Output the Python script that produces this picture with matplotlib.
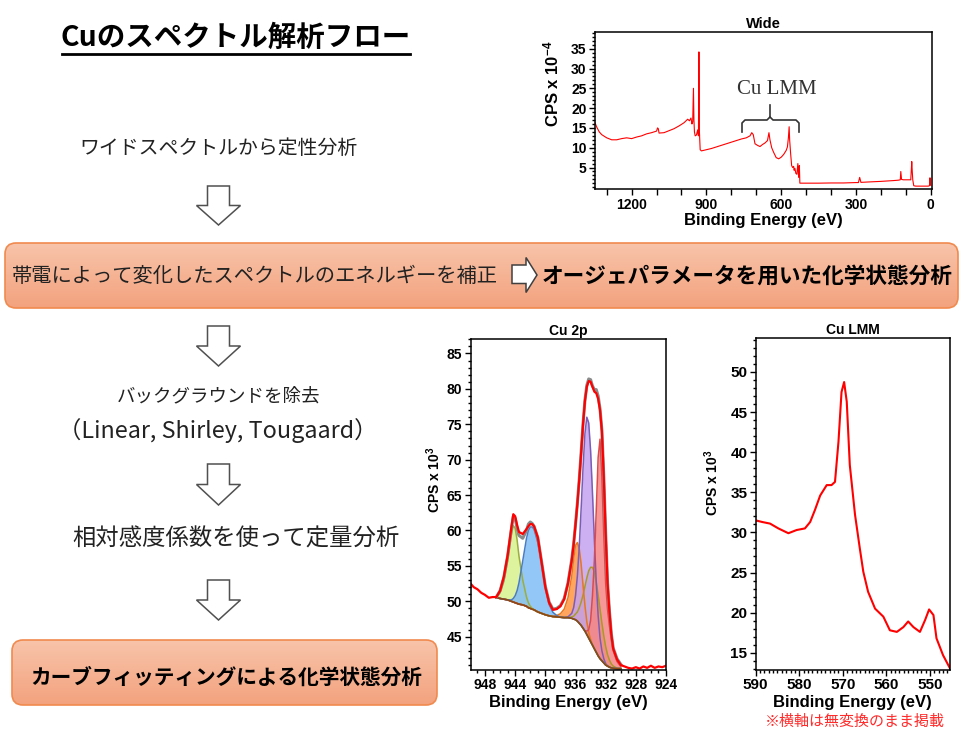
import numpy as np
import matplotlib
matplotlib.use("Agg")
import matplotlib.pyplot as plt
from matplotlib.patches import FancyBboxPatch, Polygon
from matplotlib.colors import LinearSegmentedColormap
from matplotlib.ticker import MultipleLocator, FixedLocator

plt.rcParams["font.family"] = ["Liberation Sans", "Noto Sans CJK JP", "DejaVu Sans"]
plt.rcParams["font.weight"] = "bold"
plt.rcParams["axes.labelweight"] = "bold"
plt.rcParams["axes.titleweight"] = "bold"
plt.rcParams["mathtext.fontset"] = "custom"
plt.rcParams["mathtext.rm"] = "Liberation Sans:bold"
plt.rcParams["mathtext.bf"] = "Liberation Sans:bold"
plt.rcParams["mathtext.default"] = "bf"

JP = "Noto Sans CJK JP"

# ---- Wide survey spectrum (binding energy eV, CPS x 10^-4)
wide_ev = [1350, 1340, 1330, 1320, 1300, 1280, 1260, 1240, 1220, 1200, 1180, 1160,
           1140, 1120, 1100, 1096, 1093, 1090, 1070, 1050, 1030, 1010, 990, 975, 968,
           962, 958, 955, 952, 950, 948, 945, 940, 935, 932, 930, 928, 925, 920, 900,
           880, 860, 840, 820, 800, 780, 760, 740, 725, 718, 712, 705, 695, 685, 675,
           665, 655, 649, 645, 638, 630, 620, 610, 600, 590, 580, 575, 571, 568, 566,
           562, 558, 554, 550, 548, 545, 541, 537, 533, 530, 527, 525, 500, 450, 400,
           350, 300, 290, 285, 280, 250, 200, 150, 130, 122, 120, 117, 110, 100, 90,
           80, 76, 74, 72, 68, 60, 40, 20, 10, 5, 3, 1, 0]
wide_cps = [16.8, 15.2, 14.0, 13.3, 12.5, 12.0, 12.0, 12.3, 12.5, 12.3, 12.7, 13.0,
            13.5, 13.8, 14.2, 15.0, 14.8, 13.7, 13.8, 14.3, 14.8, 15.5, 16.3, 17.2, 16.8,
            17.5, 16.0, 16.5, 25.0, 17.0, 14.0, 13.0, 13.2, 14.5, 13.0, 34.2, 14.0, 9.5, 9.2, 9.5,
            9.8, 10.2, 10.6, 11.0, 11.4, 11.8, 12.2, 12.5, 13.0, 13.8, 13.3, 11.0, 10.6, 10.3, 10.8,
            11.2, 11.8, 13.8, 12.0, 10.0, 8.8, 7.5, 7.2, 7.6, 8.3, 9.3, 10.2, 12.5, 15.3, 12.0,
            8.5, 5.5, 5.0, 5.3, 4.3, 4.8, 3.5, 3.3, 6.0, 2.5, 5.5, 1.05, 1.05, 1.05, 1.1,
            1.1, 1.2, 1.2, 2.5, 1.25, 1.35, 1.5, 1.7, 1.8, 1.9, 4.0, 2.0, 1.9, 1.9, 1.9,
            1.9, 6.5, 4.0, 1.9, 0.4, 0.3, 0.3, 0.3, 0.3, 0.4, 2.4, 0.6, 0.5]

# ---- Cu 2p region
cu2p_ev = [950, 949.5, 949, 948.5, 948, 947.5, 947, 946.5, 946, 945.5, 945, 944.5,
           944.25, 944, 943.75, 943.5, 943, 942.5, 942.25, 942, 941.75, 941.5, 941,
           940.5, 940, 939.5, 939, 938.5, 938, 937.5, 937, 936.5, 936.25, 936, 935.75,
           935.5, 935.25, 935, 934.75, 934.5, 934.25, 934, 933.75, 933.5, 933.25, 933,
           932.75, 932.5, 932.25, 932, 931.75, 931.5, 931.25, 931, 930.5, 930, 929.5,
           929, 928.5, 928, 927.5, 927, 926.5, 926, 925.5, 925, 924.5, 924]
cu2p_red = [52.6, 52.0, 51.7, 51.2, 50.9, 50.5, 50.6, 50.6, 51.5, 53.5, 56.5, 60.5,
            62.3, 62.0, 60.8, 59.8, 59.5, 60.2, 60.6, 60.9, 60.9, 60.6, 59.0,
            55.5, 52.0, 49.8, 48.8, 48.9, 49.3, 50.3, 52.5, 55.8, 58.0, 60.8, 63.8,
            67.2, 71.0, 75.0, 78.3, 80.3, 81.1, 81.0, 80.3, 79.6, 79.4, 78.6,
            77.0, 74.0, 67.5, 59.5, 52.5, 48.5, 45.3, 43.3, 41.8, 41.0, 40.8,
            40.6, 40.5, 40.7, 40.5, 40.8, 40.6, 40.9, 40.6, 40.8, 40.7, 40.9]
# fitted range 946.5 .. 930 eV
fit_first, fit_last = 946.5, 930
cu2p_exp = [50.6, 51.5, 53.4, 56.4, 60.2, 62.0, 61.7, 60.3, 59.3, 58.9, 60.0, 60.9,
            61.2, 61.0, 60.6, 59.0, 55.6, 52.1, 49.9, 48.9, 49.0, 49.4, 50.4, 52.6,
            55.9, 58.1, 60.9, 63.9, 67.3, 71.1, 75.1, 78.4, 80.5, 81.4, 81.3, 80.4,
            79.9, 79.9, 79.0, 77.2, 74.1, 67.6, 59.6, 52.6, 48.6, 45.4, 43.4, 41.9, 41.1]
cu2p_bg = [50.5, 50.4, 50.3, 50.2, 50.0, 49.9, 49.8, 49.7, 49.6, 49.5, 49.3, 49.1,
           49.0, 48.9, 48.8, 48.5, 48.3, 48.1, 47.95, 47.85, 47.8, 47.75, 47.7, 47.7,
           47.6, 47.5, 47.4, 47.2, 46.9, 46.6, 46.2, 45.8, 45.3, 44.8, 44.3, 43.8,
           43.3, 42.8, 42.3, 41.9, 41.6, 41.3, 41.0, 40.85, 40.7, 40.6, 40.55, 40.5, 40.5]
# component heights above background
peak_sat1 = [0, 0.8, 2.5, 5.5, 9.5, 10.8, 10.5, 9.0, 6.8, 3.5, 1.3, 0.7, 0.3, 0.1] + [0] * 35
peak_sat2 = [0, 0, 0, 0, 0.2, 0.5, 1.0, 1.8, 3.0, 6.2, 9.6, 10.9, 11.5, 11.6, 11.4, 9.8,
             7.0, 3.8, 1.6, 0.6, 0.2, 0] + [0] * 27
peak_mid = [0] * 24 + [0.2, 0.4, 0.8, 1.3, 2.2, 3.3, 4.7, 6.3, 8.0, 9.5, 10.5, 11.0, 10.8,
                       9.9, 8.6, 7.0, 5.3, 3.8, 2.6, 1.6, 1.0, 0.55, 0.3, 0.05, 0]
peak_orange = [0] * 20 + [0.2, 0.5, 1.2, 2.8, 6.0, 8.5, 10.5, 11.1, 10.5, 8.6, 6.0, 3.6,
                          1.8, 0.8, 0.3, 0.1] + [0] * 13
peak_purple = [0] * 23 + [0.1, 0.7, 1.6, 3.4, 6.4, 10.9, 16.6, 22.7, 27.9, 30.7, 30.4,
                          27.0, 21.5, 15.4, 9.9, 5.7, 2.9, 1.4, 0.6, 0.2] + [0] * 6
peak_red = [0] * 32 + [0.5, 1.2, 3.0, 7.0, 12.5, 20.0, 28.0, 31.0, 26.0, 18.0, 11.5, 8.0,
                       5.8, 4.0, 2.5, 1.0, 0.3]

# ---- Cu LMM region
lmm_ev = [590, 588.5, 586.7, 584.8, 582.5, 580.6, 578.7, 577.5, 576.4, 575.2, 573.7,
          572.6, 571.8, 571.0, 570.3, 569.7, 569.1, 568.4, 567.2, 566.1, 565.3, 564.2,
          562.6, 560.7, 559.2, 557.6, 556.1, 555.0, 553.8, 552.3, 551.1, 550.2, 549.2,
          548.5, 547.0, 545.4]
lmm_cps = [31.5, 31.3, 31.1, 30.5, 29.9, 30.3, 30.5, 31.3, 32.8, 34.6, 35.9,
           35.9, 36.3, 41.3, 47.5, 48.75, 46.3, 38.4, 32.2, 28.0, 25.1, 22.6,
           20.5, 19.5, 17.8, 17.6, 18.2, 18.9, 18.2, 17.6, 19.1, 20.4, 19.7,
           16.8, 14.7, 13.05]

W, H = 961, 731
fig = plt.figure(figsize=(W / 100, H / 100), dpi=100)


def frame(x0, y0, x1, y1):
    return [x0 / W, 1 - y1 / H, (x1 - x0) / W, (y1 - y0) / H]


def style_ticks(ax, size):
    ax.tick_params(which="both", direction="out", width=1, labelsize=size, pad=2)
    ax.tick_params(which="major", length=4)
    ax.tick_params(which="minor", length=2.2)
    for s in ax.spines.values():
        s.set_linewidth(1.1)


# Wide
ax = fig.add_axes(frame(595, 31.7, 931.7, 189.3))
ax.plot(wide_ev, wide_cps, color="red", lw=0.8)
ax.set_xlim(1347, -4)
ax.set_ylim(-0.5, 39.3)
ax.xaxis.set_major_locator(MultipleLocator(300))
ax.xaxis.set_minor_locator(MultipleLocator(100))
ax.yaxis.set_major_locator(FixedLocator(range(5, 40, 5)))
ax.yaxis.set_minor_locator(MultipleLocator(1))
style_ticks(ax, 10)
ax.tick_params(axis="x", which="minor", length=4)
ax.set_title("Wide", fontsize=10.5, pad=3)
ax.set_xlabel("Binding Energy (eV)", fontsize=12, labelpad=1)
ax.set_ylabel("CPS x 10$^{-4}$", fontsize=12)
ax.yaxis.set_label_coords(-0.1, 0.67)

# Cu 2p
ax2 = fig.add_axes(frame(470.7, 339.3, 666, 670))
fit_ev = [e for e in cu2p_ev if fit_last <= e <= fit_first]
bg = np.array(cu2p_bg)
comps = [(peak_mid, "#d2cc50", "#a89a28"),
         (peak_orange, "#ff9640", "#e8761e"),
         (peak_purple, "#c3a2ef", "#7c5db6"),
         (peak_red, "#f78585", "#dd4a4a"),
         (peak_sat1, "#d8f28c", "#9cae3c"),
         (peak_sat2, "#80bdf6", "#4a7cc4")]
for comp, fc, ec in comps:
    top = bg + np.array(comp)
    ax2.fill_between(fit_ev, bg, top, color=fc, alpha=0.85, lw=0)
    ax2.plot(fit_ev, top, color=ec, lw=1.1)
ax2.plot(fit_ev, bg, color="#8b4a13", lw=1.2)
ax2.plot(fit_ev, cu2p_exp, color="#8a8a8a", lw=2.2)
ax2.plot(cu2p_ev, cu2p_red, color="red", lw=1.6)
ax2.set_xlim(949.9, 924)
ax2.set_ylim(40.3, 87.0)
ax2.xaxis.set_major_locator(MultipleLocator(4))
ax2.xaxis.set_minor_locator(MultipleLocator(1))
ax2.yaxis.set_major_locator(FixedLocator(range(45, 90, 5)))
ax2.yaxis.set_minor_locator(MultipleLocator(1))
style_ticks(ax2, 10)
ax2.set_title("Cu 2p", fontsize=10, pad=3)
ax2.set_xlabel("Binding Energy (eV)", fontsize=12, labelpad=2)
ax2.set_ylabel("CPS x 10$^{3}$", fontsize=10)
ax2.yaxis.set_label_coords(-0.14, 0.575)

# Cu LMM
ax3 = fig.add_axes(frame(755.7, 338.3, 950, 670))
ax3.plot(lmm_ev, lmm_cps, color="red", lw=1.5)
ax3.set_xlim(590, 545.4)
ax3.set_ylim(12.85, 54.2)
ax3.xaxis.set_major_locator(MultipleLocator(10))
ax3.xaxis.set_minor_locator(MultipleLocator(1))
ax3.yaxis.set_major_locator(FixedLocator(range(15, 55, 5)))
ax3.yaxis.set_minor_locator(MultipleLocator(1))
style_ticks(ax3, 11)
ax3.set_title("Cu LMM", fontsize=10, pad=3)
ax3.set_xlabel("Binding Energy (eV)", fontsize=12, labelpad=2)
ax3.set_ylabel("CPS x 10$^{3}$", fontsize=10)
ax3.yaxis.set_label_coords(-0.18, 0.565)

# ---- canvas in pixel coordinates for the flow diagram
cv = fig.add_axes([0, 0, 1, 1], zorder=5)
cv.axis("off")
salmon = LinearSegmentedColormap.from_list("salmon", ["#f8c4aa", "#f3a27e"])
grad = np.linspace(0, 1, 64).reshape(-1, 1)


def grad_box(x0, y0, x1, y1):
    p = FancyBboxPatch((x0, y0), x1 - x0, y1 - y0,
                       boxstyle="round,pad=0,rounding_size=11",
                       fc="none", ec="#f08a4e", lw=1.2, zorder=3)
    cv.add_patch(p)
    im = cv.imshow(grad, cmap=salmon, extent=(x0, x1, y1, y0),
                   aspect="auto", zorder=2)
    im.set_clip_path(p)


def down_arrow(cx, top, tip):
    sh = (top + tip) / 2
    pts = [(cx - 11, top), (cx + 11, top), (cx + 11, sh), (cx + 22, sh),
           (cx, tip), (cx - 22, sh), (cx - 11, sh)]
    cv.add_patch(Polygon(pts, closed=True, fc="white", ec="#505050", lw=1.1, zorder=4))


grad_box(5, 243, 958, 308)
grad_box(12, 640, 437, 705)

for top, tip in [(186, 225), (326, 366), (464, 505), (580, 620)]:
    down_arrow(218.5, top, tip)

cv.add_patch(Polygon([(512, 265), (526, 265), (526, 257.5), (537, 275), (526, 292.5),
                      (526, 283.5), (512, 283.5)], closed=True, fc="white",
                     ec="#404040", lw=1.1, zorder=4))

cv.text(236, 38, "Cuのスペクトル解析フロー", ha="center", va="center",
        fontsize=20.5, family=JP, fontweight="bold", zorder=6)
cv.plot([62, 410], [53.5, 53.5], color="black", lw=2, zorder=6)

cv.text(218, 149, "ワイドスペクトルから定性分析", ha="center", va="center",
        fontsize=14.3, family=JP, fontweight="normal", color="#222222", zorder=6)
cv.text(12, 276, "帯電によって変化したスペクトルのエネルギーを補正", ha="left", va="center",
        fontsize=14.6, family=JP, fontweight="normal", color="#222222", zorder=6)
cv.text(542, 276, "オージェパラメータを用いた化学状態分析", ha="left", va="center",
        fontsize=15.6, family=JP, fontweight="bold", color="black", zorder=6)
cv.text(218.5, 396, "バックグラウンドを除去", ha="center", va="center",
        fontsize=13.3, family=JP, fontweight="normal", color="#222222", zorder=6)
cv.text(217.5, 431, "（Linear, Shirley, Tougaard）", ha="center", va="center",
        fontsize=16.8, family=JP, fontweight="normal", color="#222222", zorder=6)
cv.text(236, 539, "相対感度係数を使って定量分析", ha="center", va="center",
        fontsize=16.8, family=JP, fontweight="normal", color="#222222", zorder=6)
cv.text(226, 677, "カーブフィッティングによる化学状態分析", ha="center", va="center",
        fontsize=14.9, family=JP, fontweight="bold", color="black", zorder=6)
cv.text(855, 722, "※横軸は無変換のまま掲載", ha="center", va="center",
        fontsize=10.8, family=JP, fontweight="normal", color="#ff2a2a", zorder=6)

# Cu LMM bracket on the wide spectrum
cv.text(777, 89, "Cu LMM", ha="center", va="center", fontsize=15,
        family="Liberation Serif", fontweight="normal", color="#333333", zorder=6)
cv.plot([742, 742, 745, 767, 770, 770], [132, 123, 120, 120, 117, 105],
        color="#333333", lw=1.2, zorder=6)
cv.plot([770, 773, 796, 799, 799], [117, 120, 120, 123, 132],
        color="#333333", lw=1.2, zorder=6)

cv.set_xlim(0, W)
cv.set_ylim(H, 0)

fig.savefig("out.png", dpi=100)
